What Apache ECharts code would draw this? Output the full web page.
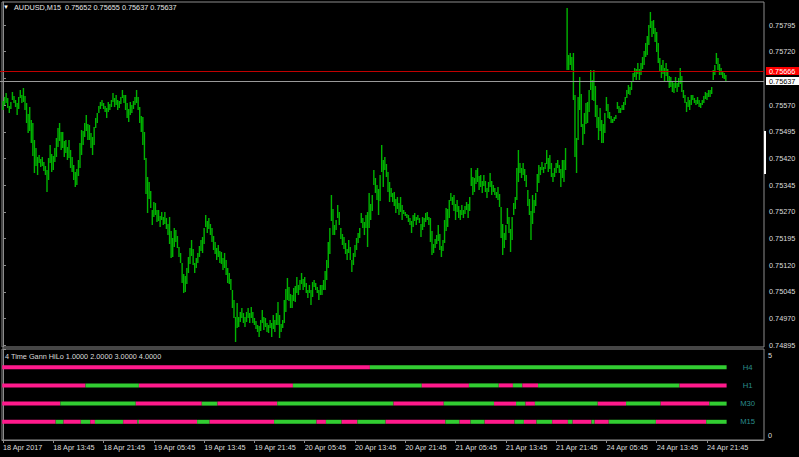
<!DOCTYPE html>
<html>
<head>
<meta charset="utf-8">
<script src="https://cdn.jsdelivr.net/npm/echarts@6/dist/echarts.min.js"></script>
<style>
html,body{margin:0;padding:0;background:#000;}
#chart{width:799px;height:457px;}
</style>
</head>
<body>
<div id="chart"></div>
<script>
// ---------- DATA ----------
const symbolTitle = 'AUDUSD,M15';
const lastOHLC = [0.75652, 0.75655, 0.75637, 0.75637];
const askLine = 0.75666;
const bidLine = 0.75637;

const timeLabels = ['18 Apr 2017','18 Apr 13:45','18 Apr 21:45','19 Apr 05:45','19 Apr 13:45','19 Apr 21:45','20 Apr 05:45','20 Apr 13:45','20 Apr 21:45','21 Apr 05:45','21 Apr 13:45','21 Apr 21:45','24 Apr 05:45','24 Apr 13:45','24 Apr 21:45'];
const barsPerLabel = 32;
const priceTicks = [0.74895,0.74970,0.75045,0.75120,0.75195,0.75270,0.75345,0.75420,0.75495,0.75570,0.75645,0.75720,0.75795];

const highs = [
0.75581,0.75593,0.75604,0.75590,0.75567,0.75579,0.75607,0.75596,0.75584,0.75576,
0.75593,0.75612,0.75598,0.75618,0.75596,0.75576,0.75545,0.75565,0.75528,0.75520,
0.75472,0.75449,0.75424,0.75430,0.75419,0.75424,0.75410,0.75399,0.75388,0.75421,
0.75458,0.75433,0.75427,0.75449,0.75478,0.75506,0.75520,0.75494,0.75494,0.75469,
0.75472,0.75452,0.75472,0.75444,0.75424,0.75402,0.75382,0.75390,0.75416,0.75464,
0.75500,0.75497,0.75520,0.75542,0.75517,0.75514,0.75492,0.75480,0.75508,0.75534,
0.75548,0.75567,0.75579,0.75584,0.75576,0.75567,0.75562,0.75579,0.75573,0.75584,
0.75604,0.75590,0.75598,0.75584,0.75581,0.75593,0.75612,0.75598,0.75598,0.75576,
0.75559,0.75579,0.75570,0.75581,0.75593,0.75612,0.75593,0.75565,0.75539,0.75536,
0.75494,0.75421,0.75368,0.75354,0.75329,0.75275,0.75298,0.75295,0.75275,0.75275,
0.75258,0.75270,0.75256,0.75270,0.75253,0.75236,0.75256,0.75216,0.75197,0.75225,
0.75219,0.75202,0.75171,0.75154,0.75126,0.75095,0.75090,0.75112,0.75143,0.75168,
0.75191,0.75166,0.75126,0.75140,0.75154,0.75174,0.75191,0.75199,0.75225,0.75261,
0.75244,0.75253,0.75236,0.75225,0.75202,0.75185,0.75168,0.75177,0.75160,0.75157,
0.75140,0.75154,0.75135,0.75112,0.75098,0.75081,0.75050,0.75022,0.74975,0.75014,
0.74975,0.74989,0.75000,0.74986,0.74975,0.74989,0.75000,0.74986,0.75003,0.74989,
0.74972,0.74963,0.74952,0.74949,0.74966,0.74994,0.74975,0.74972,0.74958,0.74952,
0.74966,0.74958,0.74980,0.74966,0.74986,0.75017,0.74980,0.74955,0.74966,0.75022,
0.75053,0.75084,0.75059,0.75039,0.75036,0.75056,0.75062,0.75087,0.75065,0.75079,
0.75098,0.75081,0.75087,0.75070,0.75050,0.75065,0.75050,0.75073,0.75079,0.75070,
0.75059,0.75050,0.75065,0.75065,0.75079,0.75104,0.75135,0.75185,0.75225,0.75317,
0.75278,0.75233,0.75247,0.75289,0.75270,0.75225,0.75208,0.75199,0.75183,0.75166,
0.75191,0.75171,0.75135,0.75154,0.75177,0.75197,0.75211,0.75225,0.75267,0.75253,
0.75242,0.75261,0.75270,0.75323,0.75292,0.75317,0.75388,0.75365,0.75346,0.75334,
0.75374,0.75458,0.75416,0.75424,0.75405,0.75382,0.75354,0.75337,0.75323,0.75326,
0.75306,0.75312,0.75295,0.75312,0.75289,0.75275,0.75270,0.75264,0.75261,0.75253,
0.75244,0.75261,0.75267,0.75256,0.75261,0.75253,0.75236,0.75256,0.75253,0.75267,
0.75270,0.75256,0.75253,0.75216,0.75180,0.75194,0.75205,0.75233,0.75208,0.75174,
0.75191,0.75247,0.75281,0.75278,0.75303,0.75323,0.75312,0.75317,0.75292,0.75303,
0.75286,0.75275,0.75289,0.75275,0.75286,0.75298,0.75292,0.75312,0.75393,0.75368,
0.75365,0.75388,0.75393,0.75371,0.75374,0.75357,0.75374,0.75357,0.75337,0.75354,
0.75379,0.75357,0.75346,0.75337,0.75326,0.75340,0.75320,0.75284,0.75236,0.75211,
0.75233,0.75281,0.75256,0.75222,0.75256,0.75295,0.75312,0.75393,0.75444,0.75407,
0.75393,0.75407,0.75390,0.75374,0.75331,0.75306,0.75272,0.75317,0.75303,0.75323,
0.75376,0.75402,0.75396,0.75410,0.75396,0.75407,0.75444,0.75421,0.75430,0.75407,
0.75379,0.75393,0.75407,0.75416,0.75402,0.75390,0.75416,0.75416,0.75449,0.75843,
0.75711,0.75716,0.75705,0.75716,0.75598,0.75478,0.75593,0.75649,0.75601,0.75517,
0.75548,0.75576,0.75579,0.75612,0.75669,0.75640,0.75669,0.75624,0.75570,0.75536,
0.75562,0.75528,0.75517,0.75548,0.75593,0.75573,0.75551,0.75539,0.75531,0.75536,
0.75542,0.75579,0.75567,0.75562,0.75570,0.75579,0.75593,0.75612,0.75626,0.75621,
0.75635,0.75660,0.75674,0.75671,0.75688,0.75671,0.75688,0.75705,0.75722,0.75744,
0.75764,0.75795,0.75832,0.75806,0.75809,0.75787,0.75775,0.75744,0.75702,0.75683,
0.75697,0.75674,0.75688,0.75671,0.75652,0.75649,0.75635,0.75632,0.75649,0.75632,
0.75646,0.75674,0.75652,0.75612,0.75598,0.75579,0.75593,0.75584,0.75598,0.75598,
0.75590,0.75584,0.75593,0.75584,0.75576,0.75584,0.75596,0.75607,0.75604,0.75612,
0.75612,0.75621,0.75669,0.75683,0.75716,0.75702,0.75685,0.75674,0.75666,0.75660,
0.75655
];

const lows = [
0.75556,0.75570,0.75576,0.75562,0.75548,0.75559,0.75584,0.75576,0.75565,0.75542,
0.75559,0.75590,0.75576,0.75579,0.75556,0.75520,0.75492,0.75497,0.75464,0.75427,
0.75379,0.75399,0.75374,0.75407,0.75396,0.75399,0.75385,0.75374,0.75326,0.75360,
0.75407,0.75382,0.75388,0.75410,0.75424,0.75452,0.75469,0.75444,0.75449,0.75424,
0.75435,0.75416,0.75421,0.75393,0.75382,0.75360,0.75340,0.75346,0.75371,0.75393,
0.75430,0.75458,0.75480,0.75497,0.75472,0.75472,0.75449,0.75430,0.75458,0.75506,
0.75520,0.75548,0.75559,0.75567,0.75559,0.75551,0.75534,0.75551,0.75556,0.75565,
0.75579,0.75565,0.75570,0.75556,0.75562,0.75573,0.75590,0.75576,0.75556,0.75534,
0.75522,0.75542,0.75548,0.75559,0.75570,0.75576,0.75556,0.75520,0.75494,0.75458,
0.75416,0.75320,0.75267,0.75306,0.75281,0.75233,0.75256,0.75261,0.75242,0.75244,
0.75227,0.75247,0.75233,0.75236,0.75222,0.75205,0.75180,0.75140,0.75143,0.75171,
0.75185,0.75168,0.75143,0.75126,0.75070,0.75042,0.75045,0.75067,0.75098,0.75123,
0.75146,0.75121,0.75098,0.75112,0.75126,0.75143,0.75160,0.75154,0.75180,0.75227,
0.75211,0.75222,0.75205,0.75185,0.75163,0.75152,0.75135,0.75143,0.75126,0.75123,
0.75107,0.75112,0.75093,0.75070,0.75067,0.75050,0.75000,0.74972,0.74904,0.74944,
0.74946,0.74961,0.74972,0.74958,0.74946,0.74961,0.74972,0.74958,0.74972,0.74958,
0.74952,0.74941,0.74932,0.74918,0.74935,0.74958,0.74938,0.74946,0.74932,0.74930,
0.74944,0.74918,0.74941,0.74932,0.74952,0.74952,0.74916,0.74932,0.74944,0.74958,
0.74989,0.75022,0.75020,0.75000,0.75000,0.75020,0.75017,0.75042,0.75036,0.75050,
0.75067,0.75050,0.75059,0.75042,0.75028,0.75042,0.75008,0.75031,0.75059,0.75050,
0.75042,0.75022,0.75036,0.75036,0.75050,0.75050,0.75079,0.75112,0.75152,0.75244,
0.75205,0.75205,0.75219,0.75253,0.75233,0.75194,0.75177,0.75166,0.75152,0.75135,
0.75154,0.75135,0.75101,0.75121,0.75143,0.75163,0.75183,0.75197,0.75239,0.75225,
0.75205,0.75225,0.75171,0.75225,0.75247,0.75272,0.75346,0.75323,0.75303,0.75261,
0.75301,0.75382,0.75340,0.75388,0.75368,0.75326,0.75298,0.75312,0.75298,0.75286,
0.75267,0.75278,0.75261,0.75270,0.75247,0.75264,0.75258,0.75253,0.75242,0.75233,
0.75211,0.75227,0.75244,0.75233,0.75247,0.75239,0.75199,0.75219,0.75227,0.75242,
0.75247,0.75233,0.75185,0.75149,0.75154,0.75168,0.75180,0.75188,0.75163,0.75143,
0.75160,0.75183,0.75216,0.75227,0.75253,0.75301,0.75289,0.75272,0.75247,0.75270,
0.75253,0.75247,0.75261,0.75253,0.75264,0.75275,0.75253,0.75272,0.75343,0.75317,
0.75326,0.75348,0.75354,0.75331,0.75340,0.75323,0.75343,0.75326,0.75309,0.75326,
0.75340,0.75317,0.75326,0.75317,0.75309,0.75303,0.75284,0.75197,0.75149,0.75168,
0.75191,0.75236,0.75211,0.75157,0.75191,0.75261,0.75278,0.75303,0.75354,0.75379,
0.75365,0.75374,0.75357,0.75340,0.75286,0.75261,0.75191,0.75236,0.75267,0.75286,
0.75326,0.75351,0.75374,0.75388,0.75379,0.75390,0.75405,0.75382,0.75390,0.75368,
0.75354,0.75368,0.75379,0.75393,0.75379,0.75340,0.75365,0.75354,0.75388,0.75669,
0.75669,0.75683,0.75669,0.75584,0.75424,0.75379,0.75472,0.75556,0.75508,0.75458,
0.75489,0.75517,0.75520,0.75551,0.75612,0.75584,0.75581,0.75536,0.75506,0.75472,
0.75497,0.75464,0.75464,0.75492,0.75553,0.75534,0.75531,0.75520,0.75520,0.75525,
0.75531,0.75559,0.75548,0.75548,0.75556,0.75556,0.75570,0.75590,0.75601,0.75598,
0.75612,0.75635,0.75649,0.75640,0.75657,0.75640,0.75655,0.75671,0.75683,0.75705,
0.75711,0.75739,0.75787,0.75761,0.75770,0.75747,0.75719,0.75688,0.75666,0.75646,
0.75657,0.75635,0.75652,0.75635,0.75618,0.75621,0.75607,0.75604,0.75618,0.75607,
0.75621,0.75629,0.75607,0.75590,0.75576,0.75551,0.75565,0.75556,0.75570,0.75584,
0.75576,0.75570,0.75573,0.75565,0.75562,0.75570,0.75576,0.75587,0.75584,0.75593,
0.75593,0.75601,0.75640,0.75655,0.75685,0.75669,0.75655,0.75655,0.75646,0.75643,
0.75637
];

// Gann HiLo state runs: [first bar index, state]  (1 = up/green, 0 = down/pink)
const tfNames = ['H4','H1','M30','M15'];
const tfLevels = [4, 3, 2, 1];
const runsH4 = [[0,0],[234,1]];
const runsH1 = [[0,0],[53,1],[87,0],[185,1],[267,0],[297,1],[316,0],[325,1],[331,0],[341,1],[431,0]];
const runsM30 = [[0,0],[37,1],[85,0],[127,1],[137,0],[175,1],[249,0],[281,1],[313,0],[327,1],[333,0],[339,1],[379,0],[397,1],[419,0],[450,1]];
const runsM15 = [[0,0],[34,1],[39,0],[50,1],[56,0],[59,1],[77,0],[86,1],[87,0],[124,1],[132,0],[173,1],[200,0],[206,1],[216,0],[226,1],[244,0],[282,1],[291,0],[298,1],[307,0],[326,1],[332,0],[340,1],[350,0],[360,1],[363,0],[375,1],[377,0],[386,1],[416,0],[448,1]];
const indicatorTitle = '4 Time Gann HiLo 1.0000 2.0000 3.0000 4.0000';

// ---------- BUILD ----------
const N = highs.length;
const FONT = "'Liberation Sans', Arial, sans-serif";
const FS = 7.3;
const GREEN = '#32cd32', PINK = '#ff1a8c';
const X_MIN = -0.6364, X_MAX = 484.29;
const Y_MIN = 0.7489023, Y_MAX = 0.7585968;

const barData = highs.map((h, i) => [i, h, lows[i]]);
const tfRuns = [runsH4, runsH1, runsM30, runsM15];
const runItems = [];
tfRuns.forEach((runs, t) => {
  runs.forEach((r, k) => {
    const end = k + 1 < runs.length ? runs[k + 1][0] : N;
    runItems.push([r[0], end, tfLevels[t], r[1], t, k === runs.length - 1 ? 1 : 0]);
  });
});
const tickIdx = timeLabels.map((_, k) => k * barsPerLabel);
// tick labels hidden behind the bid/ask price boxes are not drawn
const priceLabelTicks = priceTicks.filter(v => Math.abs(v - bidLine) > 0.0001 && Math.abs(v - askLine) > 0.0001);
// price line styles: [line colour, box colour, text colour]
const priceLineStyles = [['#c00000', '#ff0000', '#ffffff'], ['#9a9a9a', '#ffffff', '#000000']];
const priceLineData = [[askLine, 0], [bidLine, 1]];

const chart = echarts.init(document.getElementById('chart'), null, {renderer: 'svg'});
const option = {
  backgroundColor: '#000000',
  animation: false,
  grid: [
    {left: 2, right: 35, top: 2, height: 345, show: true, borderColor: '#8c8c8c', borderWidth: 1, backgroundColor: 'transparent', outerBoundsMode: 'none'},
    {left: 2, right: 35, top: 349, height: 91, show: true, borderColor: '#8c8c8c', borderWidth: 1, backgroundColor: 'transparent', outerBoundsMode: 'none'}
  ],
  xAxis: [
    {type: 'value', gridIndex: 0, min: X_MIN, max: X_MAX, show: false},
    {type: 'value', gridIndex: 1, min: X_MIN, max: X_MAX,
      axisLine: {show: true, lineStyle: {color: '#8c8c8c', width: 1}},
      axisTick: {show: true, customValues: tickIdx, length: 3, inside: false, lineStyle: {color: '#8c8c8c'}},
      axisLabel: {show: true, customValues: tickIdx, align: 'left', margin: 4, color: '#dcdcdc', fontSize: FS, fontFamily: FONT,
        formatter: v => timeLabels[Math.round(v / barsPerLabel)] || ''},
      splitLine: {show: false}}
  ],
  yAxis: [
    {type: 'value', gridIndex: 0, position: 'right', min: Y_MIN, max: Y_MAX,
      axisLine: {show: true, lineStyle: {color: '#8c8c8c', width: 1}},
      axisTick: {show: true, customValues: priceTicks, length: 3, lineStyle: {color: '#8c8c8c'}},
      axisLabel: {show: true, customValues: priceLabelTicks, margin: 5, color: '#dcdcdc', fontSize: FS, fontFamily: FONT,
        formatter: v => v.toFixed(5)},
      splitLine: {show: false}},
    {type: 'value', gridIndex: 1, position: 'right', min: 0, max: 5,
      axisLine: {show: true, lineStyle: {color: '#8c8c8c', width: 1}},
      axisTick: {show: true, customValues: [0, 5], length: 3, lineStyle: {color: '#8c8c8c'}},
      axisLabel: {show: true, customValues: [0, 5], margin: 4, color: '#dcdcdc', fontSize: FS, fontFamily: FONT,
        formatter: v => v === 5 ? '{t|5}' : '{b|0}',
        rich: {t: {padding: [12, 0, 0, 0], fontSize: FS, fontFamily: FONT, color: '#dcdcdc'},
               b: {padding: [0, 0, 9, 0], fontSize: FS, fontFamily: FONT, color: '#dcdcdc'}}},
      splitLine: {show: false}}
  ],
  graphic: [
    {type: 'text', x: 3, y: 7, style: {text: '▼', fill: '#ffffff', font: '6px ' + FONT, verticalAlign: 'middle'}},
    {type: 'text', x: 14, y: 7, style: {text: symbolTitle + '  ' + lastOHLC.map(v => v.toFixed(5)).join(' '), fill: '#e6e6e6', font: FS + 'px ' + FONT, verticalAlign: 'middle'}},
    {type: 'text', x: 5, y: 356, style: {text: indicatorTitle, fill: '#dcdcdc', font: FS + 'px ' + FONT, verticalAlign: 'middle'}},
    {type: 'rect', shape: {x: 764, y: 131, width: 2, height: 43}, style: {fill: '#ffffff'}, z: 10}
  ],
  series: [
    {
      type: 'custom', xAxisIndex: 0, yAxisIndex: 0, data: barData,
      encode: {x: 0, y: [1, 2]},
      renderItem: (params, api) => {
        const i = api.value(0);
        const a = api.coord([i, api.value(1)]);
        const b = api.coord([i, api.value(2)]);
        const y1 = Math.round(a[1]);
        const y2 = Math.max(Math.round(b[1]), y1 + 1);
        return {type: 'line', shape: {x1: a[0], y1: y1, x2: a[0], y2: y2}, style: {stroke: '#00b400', lineWidth: 1.4}};
      }
    },
    {
      // bid / ask horizontal price lines with their price boxes on the axis
      type: 'custom', xAxisIndex: 0, yAxisIndex: 0, data: priceLineData, z: 5, clip: false,
      encode: {y: 0},
      renderItem: (params, api) => {
        const v = api.value(0);
        const st = priceLineStyles[api.value(1)];
        const cs = params.coordSys;
        const y = Math.round(api.coord([0, v])[1]) + 0.5;
        const right = cs.x + cs.width;
        return {type: 'group', children: [
          {type: 'line', shape: {x1: 0, y1: y, x2: right, y2: y}, style: {stroke: st[0], lineWidth: 1}},
          {type: 'rect', shape: {x: right + 2, y: y - 4.5, width: 33, height: 8}, style: {fill: st[1]}},
          {type: 'text', x: right + 5, y: y, style: {text: v.toFixed(5), fill: st[2], font: FS + 'px ' + FONT, verticalAlign: 'middle'}}
        ]};
      }
    },
    {
      type: 'custom', xAxisIndex: 1, yAxisIndex: 1, data: runItems,
      encode: {x: [0, 1], y: 2},
      renderItem: (params, api) => {
        const s = api.value(0), e = api.value(1), lv = api.value(2), st = api.value(3), t = api.value(4), last = api.value(5);
        const p1 = api.coord([s - 0.5, lv]);
        const p2 = api.coord([e - 0.5, lv]);
        const children = [{type: 'rect', shape: {x: p1[0], y: p1[1] - 2, width: p2[0] - p1[0], height: 4}, style: {fill: st ? GREEN : PINK}}];
        if (last) {
          children.push({type: 'text', x: p2[0] + 21, y: p1[1], style: {text: tfNames[t], fill: '#2a8c8c', font: '7.7px ' + FONT, align: 'center', verticalAlign: 'middle'}});
        }
        return {type: 'group', children: children};
      }
    }
  ]
};
chart.setOption(option);
</script>
</body>
</html>
